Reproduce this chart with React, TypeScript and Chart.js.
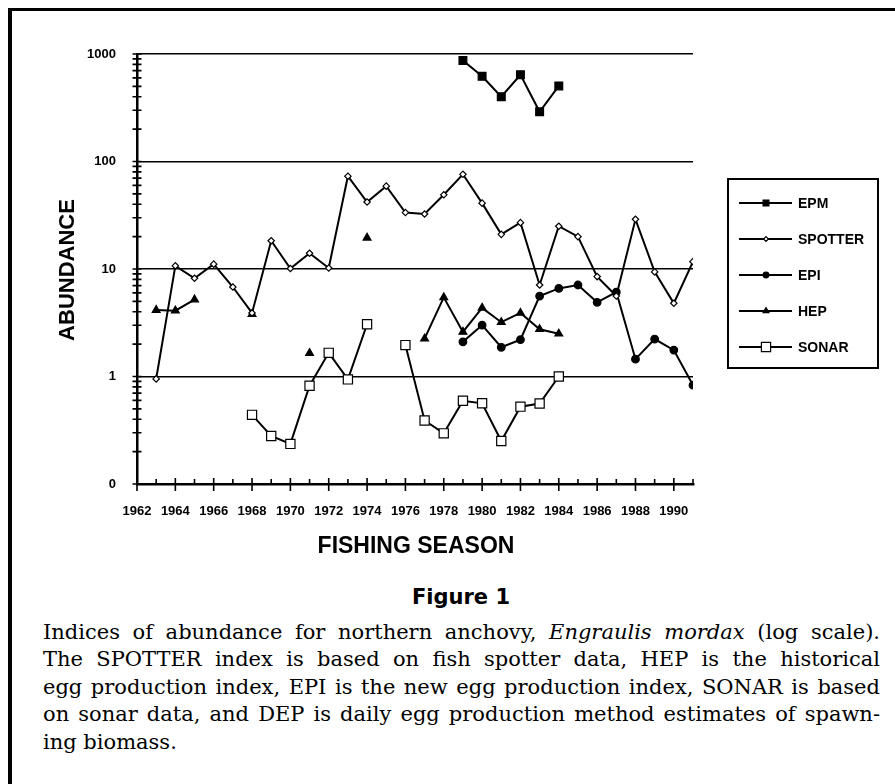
import React, { useEffect, useRef } from 'react';
import { Chart, registerables } from 'chart.js';

Chart.register(...registerables);

const years = [1962, 1963, 1964, 1965, 1966, 1967, 1968, 1969, 1970, 1971, 1972, 1973, 1974, 1975, 1976, 1977, 1978, 1979, 1980, 1981, 1982, 1983, 1984, 1985, 1986, 1987, 1988, 1989, 1990, 1991];

const epm = [null, null, null, null, null, null, null, null, null, null, null, null, null, null, null, null, null, 870, 620, 400, 640, 290, 505, null, null, null, null, null, null, null];
const spotter = [null, 0.95, 10.7, 8.2, 11.1, 6.8, 3.9, 18.3, 10.1, 14.0, 10.2, 73, 42, 59, 33.5, 32.5, 49, 76, 41, 21, 27, 7.1, 25, 20, 8.5, 5.6, 29, 9.4, 4.8, 11.7];
const epi = [null, null, null, null, null, null, null, null, null, null, null, null, null, null, null, null, null, 2.1, 3.0, 1.87, 2.2, 5.6, 6.6, 7.1, 4.9, 6.1, 1.45, 2.23, 1.76, 0.83];
const hep = [null, 4.15, 4.1, 5.2, null, null, 3.8, null, null, 1.65, null, null, 19.5, null, null, 2.25, 5.45, 2.6, 4.35, 3.2, 3.9, 2.75, 2.5, null, null, null, null, null, null, null];
const sonar = [null, null, null, null, null, null, 0.44, 0.28, 0.236, 0.82, 1.66, 0.94, 3.06, null, 1.96, 0.39, 0.296, 0.595, 0.563, 0.251, 0.524, 0.56, 1.0, null, null, null, null, null, null, null];

const seriesNames = ['EPM', 'SPOTTER', 'EPI', 'HEP', 'SONAR'];
const xTickYears = [1962, 1964, 1966, 1968, 1970, 1972, 1974, 1976, 1978, 1980, 1982, 1984, 1986, 1988, 1990];
const yTickValues = [0.1, 1, 10, 100, 1000];
const yTickLabels = ['0', '1', '10', '100', '1000'];
const yDecades = [0.1, 1, 10, 100];
const yMultiples = [1, 2, 3, 4, 5, 6, 7, 8, 9];

const captionLines = [
  ['Indices of abundance for northern anchovy, ', 'Engraulis mordax', ' (log scale).'],
  ['The SPOTTER index is based on fish spotter data, HEP is the historical'],
  ['egg production index, EPI is the new egg production index, SONAR is based'],
  ['on sonar data, and DEP is daily egg production method estimates of spawn-'],
  ['ing biomass.'],
];

const toXY = (arr: (number | null)[]) => years.map((yr, i) => ({ x: yr, y: arr[i] }));

type Mk = { style: string; r: number; fill: string };
const markers: Mk[] = [
  { style: 'rect', r: 5.5, fill: '#000' },
  { style: 'rectRot', r: 3.2, fill: '#fff' },
  { style: 'circle', r: 3.8, fill: '#000' },
  { style: 'triangle', r: 4.5, fill: '#000' },
  { style: 'rect', r: 6.5, fill: '#fff' },
];

function drawMarker(ctx: CanvasRenderingContext2D, m: Mk, x: number, y: number, small: boolean) {
  const r = small ? m.r * 0.75 : m.r;
  ctx.beginPath();
  if (m.style === 'rect') {
    const s = r * Math.SQRT1_2;
    ctx.rect(x - s, y - s, 2 * s, 2 * s);
  } else if (m.style === 'rectRot') {
    ctx.moveTo(x, y - r);
    ctx.lineTo(x + r, y);
    ctx.lineTo(x, y + r);
    ctx.lineTo(x - r, y);
    ctx.closePath();
  } else if (m.style === 'circle') {
    ctx.arc(x, y, r, 0, Math.PI * 2);
  } else {
    ctx.moveTo(x, y - r);
    ctx.lineTo(x + r * 0.87, y + r * 0.5);
    ctx.lineTo(x - r * 0.87, y + r * 0.5);
    ctx.closePath();
  }
  ctx.fillStyle = m.fill;
  ctx.fill();
  ctx.lineWidth = 1.2;
  ctx.strokeStyle = '#000';
  ctx.stroke();
}

const axisTicksPlugin = {
  id: 'axisTicks',
  afterDraw(chart: any) {
    const ctx: CanvasRenderingContext2D = chart.ctx;
    const xs = chart.scales.x;
    const ys = chart.scales.y;
    const { left, bottom } = chart.chartArea;
    ctx.save();
    ctx.strokeStyle = '#000';
    ctx.lineWidth = 1.6;
    ctx.beginPath();
    yDecades.forEach((d) => {
      yMultiples.forEach((m) => {
        const y = ys.getPixelForValue(d * m);
        ctx.moveTo(left - 4.5, y);
        ctx.lineTo(left + 4.5, y);
      });
    });
    const yTop = ys.getPixelForValue(1000);
    ctx.moveTo(left - 4.5, yTop);
    ctx.lineTo(left + 4.5, yTop);
    years.forEach((yr) => {
      const x = xs.getPixelForValue(yr);
      if (yr % 2 === 0) {
        ctx.moveTo(x, bottom - 6);
        ctx.lineTo(x, bottom + 7);
      } else {
        ctx.moveTo(x, bottom - 5);
        ctx.lineTo(x, bottom);
      }
    });
    ctx.stroke();
    ctx.restore();
  },
};

const legendPlugin = {
  id: 'figLegend',
  afterDraw(chart: any) {
    const ctx: CanvasRenderingContext2D = chart.ctx;
    const bx = 728, by = 179, bw = 150, bh = 189;
    ctx.save();
    ctx.strokeStyle = '#000';
    ctx.lineWidth = 2;
    ctx.strokeRect(bx, by, bw, bh);
    seriesNames.forEach((name, i) => {
      const y = 203 + i * 36;
      ctx.beginPath();
      ctx.lineWidth = 2;
      ctx.moveTo(739, y);
      ctx.lineTo(792, y);
      ctx.stroke();
      drawMarker(ctx, markers[i], 766, y, i !== 4);
      ctx.fillStyle = '#000';
      ctx.font = 'bold 14px "Liberation Sans", Arial, sans-serif';
      ctx.textBaseline = 'middle';
      ctx.textAlign = 'left';
      ctx.fillText(name, 798, y + 1);
    });
    ctx.restore();
  },
};

export default function App() {
  const ref = useRef<HTMLCanvasElement | null>(null);

  useEffect(() => {
    if (!ref.current) return;
    const all = [epm, spotter, epi, hep, sonar];
    const chart = new Chart(ref.current, {
      type: 'line',
      data: {
        datasets: all.map((arr, i) => ({
          label: seriesNames[i],
          data: toXY(arr),
          borderColor: '#000',
          borderWidth: 2,
          tension: 0,
          spanGaps: false,
          pointStyle: markers[i].style as any,
          pointRadius: markers[i].r,
          pointBackgroundColor: markers[i].fill,
          pointBorderColor: '#000',
          pointBorderWidth: 1.2,
        })),
      },
      options: {
        responsive: false,
        animation: false,
        parsing: { xAxisKey: 'x', yAxisKey: 'y' } as any,
        layout: { padding: { left: 0, top: 54, right: 202, bottom: 0 } },
        plugins: { legend: { display: false }, tooltip: { enabled: false } },
        scales: {
          x: {
            type: 'linear',
            min: 1962,
            max: 1991,
            afterBuildTicks: (s: any) => {
              s.ticks = xTickYears.map((v) => ({ value: v }));
            },
            afterFit: (s: any) => {
              s.height = 86;
            },
            grid: { display: false, drawTicks: false, lineWidth: 2.5 },
            border: { display: true, color: '#000', width: 2.5 },
            ticks: {
              autoSkip: false,
              maxRotation: 0,
              padding: 20,
              color: '#000',
              font: { family: '"Liberation Sans", Arial, sans-serif', size: 13, weight: 'bold' },
              callback: (v: any) => String(v),
            },
          },
          y: {
            type: 'logarithmic',
            min: 0.1,
            max: 1000,
            afterBuildTicks: (s: any) => {
              s.ticks = yTickValues.map((v) => ({ value: v }));
            },
            afterFit: (s: any) => {
              s.width = 137;
            },
            grid: {
              drawTicks: false,
              lineWidth: 1.5,
              color: (c: any) => (c.tick && c.tick.value === 0.1 ? 'rgba(0,0,0,0)' : '#000'),
            },
            border: { display: true, color: '#000', width: 2.5 },
            ticks: {
              padding: 21,
              color: '#000',
              font: { family: '"Liberation Sans", Arial, sans-serif', size: 13, weight: 'bold' },
              callback: (_v: any, idx: number) => yTickLabels[idx],
            },
          },
        },
      },
      plugins: [axisTicksPlugin, legendPlugin],
    });
    return () => chart.destroy();
  }, []);

  const sans = '"Liberation Sans", Arial, sans-serif';

  return (
    <div style={{ position: 'absolute', left: 0, top: 0, width: 895, height: 784, background: '#fff', overflow: 'hidden' }}>
      <div style={{ position: 'absolute', left: 8, top: 8, width: 887, height: 3, background: '#000' }} />
      <div style={{ position: 'absolute', left: 8, top: 8, width: 3.5, height: 776, background: '#000' }} />
      <canvas ref={ref} width={895} height={570} style={{ position: 'absolute', left: 0, top: 0, width: 895, height: 570 }} />
      <div
        style={{
          position: 'absolute', left: 67 - 100, top: 270 - 14, width: 200, height: 28, lineHeight: '28px',
          textAlign: 'center', transform: 'rotate(-90deg)', fontFamily: sans, fontWeight: 'bold', fontSize: 22, color: '#000',
        }}
      >
        ABUNDANCE
      </div>
      <div
        style={{
          position: 'absolute', left: 416 - 150, top: 545 - 14, width: 300, height: 28, lineHeight: '28px',
          textAlign: 'center', fontFamily: sans, fontWeight: 'bold', fontSize: 23, color: '#000',
        }}
      >
        FISHING SEASON
      </div>
      <div
        style={{
          position: 'absolute', left: 461 - 150, top: 597 - 14, width: 300, height: 28, lineHeight: '28px',
          textAlign: 'center', fontFamily: '"DejaVu Sans", sans-serif', fontWeight: 'bold', fontSize: 21, color: '#000',
        }}
      >
        Figure 1
      </div>
      {captionLines.map((parts, i) => (
        <div
          key={i}
          style={{
            position: 'absolute', left: 43, top: 619 + i * 27.4, width: 837, height: 27.4, lineHeight: '27.4px',
            whiteSpace: 'nowrap', textAlign: 'justify', textAlignLast: i === captionLines.length - 1 ? 'left' : 'justify',
            fontFamily: '"DejaVu Serif", serif', fontSize: 21, color: '#000',
          } as any}
        >
          {parts.map((p, j) => (j === 1 ? <i key={j}>{p}</i> : <span key={j}>{p}</span>))}
        </div>
      ))}
    </div>
  );
}
